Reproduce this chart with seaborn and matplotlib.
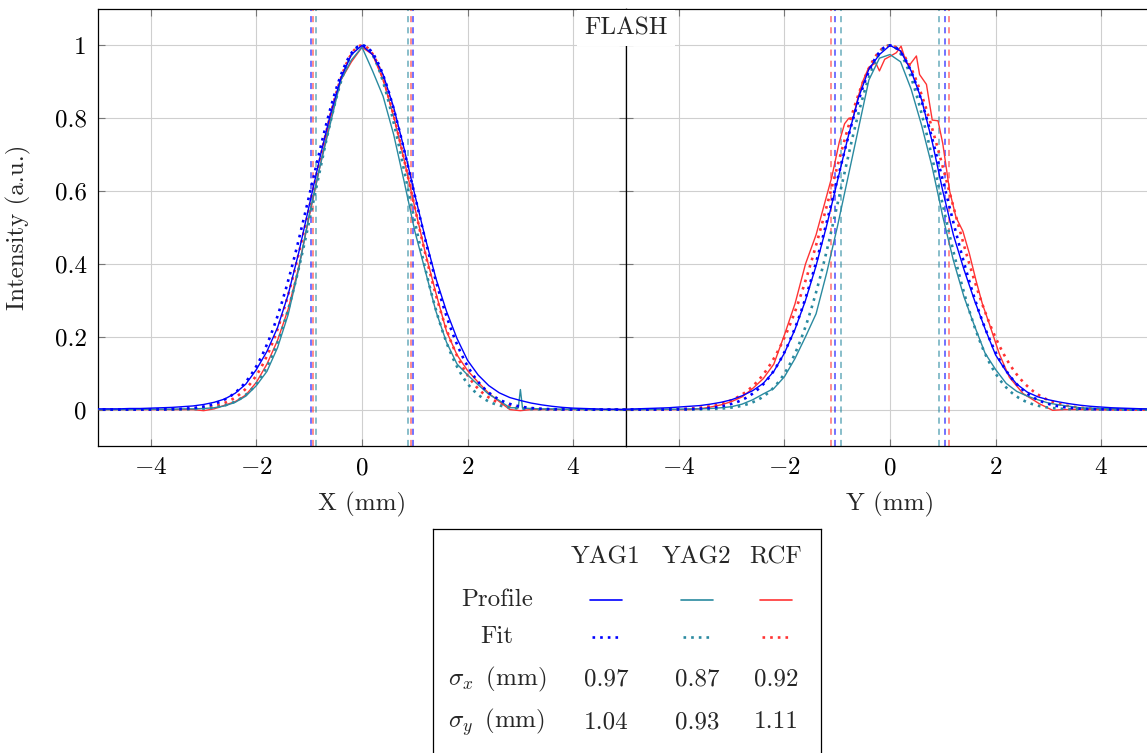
import numpy as np
import pandas as pd
import matplotlib
matplotlib.use("Agg")
import matplotlib.pyplot as plt
import seaborn as sns

# sample positions of the measured profiles (mm)
pos = np.round(np.arange(-5.0, 5.0001, 0.2), 2)

# --- X profiles (left panel) ---
yag1_x = [0.002, 0.002, 0.002, 0.003, 0.003, 0.004, 0.005, 0.006, 0.008, 0.010,
          0.014, 0.020, 0.029, 0.045, 0.070, 0.110, 0.160, 0.225, 0.315, 0.430,
          0.560, 0.690, 0.810, 0.910, 0.975, 1.000, 0.975, 0.920, 0.830, 0.715,
          0.590, 0.470, 0.360, 0.270, 0.195, 0.135, 0.095, 0.066, 0.046, 0.033,
          0.025, 0.018, 0.013, 0.009, 0.006, 0.004, 0.003, 0.002, 0.001, 0.001, 0.000]
yag2_x = [0.000, 0.000, 0.000, 0.000, 0.001, 0.001, 0.001, 0.001, 0.002, 0.002,
          0.003, 0.005, 0.010, 0.020, 0.037, 0.066, 0.105, 0.170, 0.260, 0.385,
          0.535, 0.665, 0.785, 0.905, 0.960, 0.995, 0.930, 0.860, 0.755, 0.625,
          0.490, 0.380, 0.270, 0.185, 0.125, 0.095, 0.068, 0.042, 0.025, 0.005,
          0.055, 0.003, 0.002, 0.002, 0.001, 0.001, 0.001, 0.000, 0.000, 0.000, 0.000]
# narrow spike of YAG2 around x = 3 mm
yag2_x_spike_pos = [2.96, 3.04]
yag2_x_spike_val = [0.005, 0.004]
rcf_x = [0.000, 0.000, 0.000, 0.000, 0.000, 0.000, 0.000, 0.000, 0.000, 0.000,
         -0.003, 0.002, 0.012, 0.022, 0.040, 0.075, 0.125, 0.190, 0.275, 0.390,
         0.530, 0.665, 0.800, 0.905, 0.955, 0.995, 0.975, 0.905, 0.805, 0.685,
         0.555, 0.430, 0.320, 0.215, 0.150, 0.107, 0.075, 0.045, 0.022, 0.000,
         -0.003, 0.000, 0.000, 0.000, 0.000, 0.000, 0.000, 0.000, 0.000, 0.000, 0.000]

# --- Y profiles (right panel) ---
yag1_y = [0.001, 0.002, 0.003, 0.004, 0.005, 0.007, 0.009, 0.011, 0.015, 0.020,
          0.027, 0.038, 0.052, 0.072, 0.105, 0.155, 0.220, 0.300, 0.395, 0.505,
          0.625, 0.745, 0.855, 0.935, 0.975, 1.000, 0.985, 0.930, 0.850, 0.735,
          0.600, 0.480, 0.385, 0.300, 0.222, 0.150, 0.105, 0.070, 0.048, 0.035,
          0.027, 0.021, 0.016, 0.012, 0.009, 0.007, 0.005, 0.004, 0.003, 0.002, 0.001]
yag2_y = [0.000, 0.000, 0.000, 0.001, 0.001, 0.001, 0.002, 0.002, 0.003, 0.005,
          0.008, 0.015, 0.027, 0.043, 0.058, 0.090, 0.140, 0.200, 0.263, 0.375,
          0.500, 0.635, 0.770, 0.905, 0.965, 0.975, 0.955, 0.880, 0.780, 0.665,
          0.530, 0.410, 0.310, 0.230, 0.155, 0.110, 0.072, 0.050, 0.037, 0.027,
          0.018, 0.013, 0.009, 0.005, 0.004, 0.003, 0.002, 0.002, 0.001, 0.001, 0.000]
rcf_y_pos = [-5.0, -3.8, -3.6, -3.4, -3.2, -3.0, -2.8, -2.6, -2.4, -2.2, -2.0, -1.8,
             -1.6, -1.4, -1.25, -1.1, -0.96, -0.86, -0.78, -0.7, -0.61, -0.52, -0.4,
             -0.27, -0.2, -0.1, 0.0, 0.12, 0.21, 0.31, 0.38, 0.5, 0.56, 0.69, 0.8,
             0.91, 1.0, 1.13, 1.25, 1.38, 1.5, 1.63, 1.75, 1.88, 2.07, 2.26, 2.52,
             2.83, 3.08, 3.3, 5.0]
rcf_y = [0.0, 0.0, 0.002, 0.007, 0.013, 0.022, 0.035, 0.058, 0.085, 0.125, 0.205, 0.290,
         0.400, 0.480, 0.560, 0.640, 0.735, 0.785, 0.800, 0.800, 0.855, 0.900, 0.940,
         0.952, 0.930, 0.962, 0.970, 0.980, 0.998, 0.952, 0.948, 0.971, 0.920, 0.893, 0.795,
         0.793, 0.730, 0.600, 0.528, 0.490, 0.430, 0.354, 0.290, 0.236, 0.153, 0.089, 0.044,
         0.016, -0.002, 0.0, 0.0]

# Gaussian fit widths (mm)
detectors = ["YAG1", "YAG2", "RCF"]
sigma_x = [0.97, 0.87, 0.92]
sigma_y = [1.04, 0.93, 1.11]

colors = {"YAG1": "#0000FF", "YAG2": "#2A8AA0", "RCF": "#FF3333"}

# long tables for seaborn
def profile_table(parts):
    frames = [pd.DataFrame({"pos": p, "val": v, "det": d}) for d, p, v in parts]
    df = pd.concat(frames, ignore_index=True)
    return df.sort_values(["det", "pos"], kind="stable")

prof_x = profile_table([
    ("YAG1", pos, yag1_x),
    ("YAG2", np.r_[pos, yag2_x_spike_pos], np.r_[yag2_x, yag2_x_spike_val]),
    ("RCF", pos, rcf_x),
])
prof_y = profile_table([
    ("YAG1", pos, yag1_y),
    ("YAG2", pos, yag2_y),
    ("RCF", rcf_y_pos, rcf_y),
])

fit_pos = np.linspace(-5.2, 5.2, 261)
def fit_table(sigmas):
    frames = [pd.DataFrame({"pos": fit_pos,
                            "val": np.exp(-fit_pos ** 2 / (2 * s ** 2)),
                            "det": d}) for d, s in zip(detectors, sigmas)]
    return pd.concat(frames, ignore_index=True)

fit_x = fit_table(sigma_x)
fit_y = fit_table(sigma_y)

sns.set_theme(style="whitegrid")
plt.rcParams["font.family"] = ["cmr10", "DejaVu Serif"]
plt.rcParams["mathtext.fontset"] = "cm"
plt.rcParams["axes.formatter.use_mathtext"] = True
plt.rcParams["axes.unicode_minus"] = True

FS = 18
W, H = 1147, 753
fig = plt.figure(figsize=(W / 100, H / 100), dpi=100)
fig.patch.set_facecolor("white")

def px_rect(x0, y0, x1, y1):
    return [x0 / W, 1 - y1 / H, (x1 - x0) / W, (y1 - y0) / H]

ax1 = fig.add_axes(px_rect(98, 9, 626, 446))
ax2 = fig.add_axes(px_rect(626, 9, 1154, 446))

dotted = (0, (1, 1.9))
for ax, prof, fit, sig, xl in [(ax1, prof_x, fit_x, sigma_x, "X (mm)"),
                               (ax2, prof_y, fit_y, sigma_y, "Y (mm)")]:
    for d, s in zip(detectors, sig):
        for sgn in (-1, 1):
            ax.axvline(sgn * s, color=colors[d], lw=1.1, alpha=0.7,
                       linestyle=(0, (4, 3.3)), zorder=1)
    for d in ["RCF", "YAG2", "YAG1"]:
        sns.lineplot(data=prof[prof.det == d], x="pos", y="val", ax=ax,
                     color=colors[d], lw=1.0, estimator=None, sort=False,
                     legend=False, zorder=3)
        sns.lineplot(data=fit[fit.det == d], x="pos", y="val", ax=ax,
                     color=colors[d], lw=1.9, linestyle=dotted,
                     estimator=None, sort=False, legend=False, zorder=3)
    ax.set_xlim(-5, 5)
    ax.set_ylim(-0.1, 1.1)
    ax.set_xticks([-4, -2, 0, 2, 4])
    ax.set_yticks([0, 0.2, 0.4, 0.6, 0.8, 1])
    ax.grid(True, color="#cfcfcf", lw=0.8)
    ax.set_facecolor("white")
    for sp in ax.spines.values():
        sp.set_color("black")
        sp.set_linewidth(0.9)
    ax.tick_params(direction="in", length=5, width=0.8, color="#777777",
                   labelsize=FS, pad=8, top=True, right=True, left=True,
                   bottom=True, labelcolor="black")
    ax.set_xlabel(xl, fontsize=FS)
    ax.xaxis.set_label_coords(0.5, -0.105)

ax1.yaxis.set_major_formatter(matplotlib.ticker.FuncFormatter(lambda v, p: f"{v:g}"))
ax1.set_ylabel("Intensity (a.u.)", fontsize=FS)
ax1.yaxis.set_label_coords(-0.127, 0.5)
ax2.set_ylabel("")
ax2.tick_params(labelleft=False)

fig.text(626 / W, 1 - 28 / H, "FLASH", fontsize=FS, ha="center", va="center",
         bbox=dict(facecolor="white", edgecolor="none", pad=5), zorder=10)

# legend table
tax = fig.add_axes(px_rect(433, 529, 821, 765))
tax.set_xlim(433, 821)
tax.set_ylim(765, 529)
tax.set_xticks([])
tax.set_yticks([])
tax.grid(False)
tax.set_facecolor("white")
for sp in tax.spines.values():
    sp.set_color("black")
    sp.set_linewidth(0.9)

col_x = [606, 697, 776]
for d, cx in zip(detectors, col_x):
    tax.text(cx, 557, d, fontsize=FS, ha="center", va="center")
    tax.plot([cx - 16, cx + 16], [600, 600], color=colors[d], lw=1.2)
    tax.plot([cx - 14, cx + 14], [637, 637], color=colors[d], lw=1.9, linestyle=dotted)
for sx, sy, cx in zip(sigma_x, sigma_y, col_x):
    tax.text(cx, 679, f"{sx:.2f}", fontsize=FS, ha="center", va="center")
    tax.text(cx, 722, f"{sy:.2f}", fontsize=FS, ha="center", va="center")
for label, ry in [("Profile", 600), ("Fit", 637),
                  (r"$\sigma_x\,$ (mm)", 679), (r"$\sigma_y\,$ (mm)", 722)]:
    tax.text(497, ry, label, fontsize=FS, ha="center", va="center")

fig.savefig("out.png", dpi=100, facecolor="white")
